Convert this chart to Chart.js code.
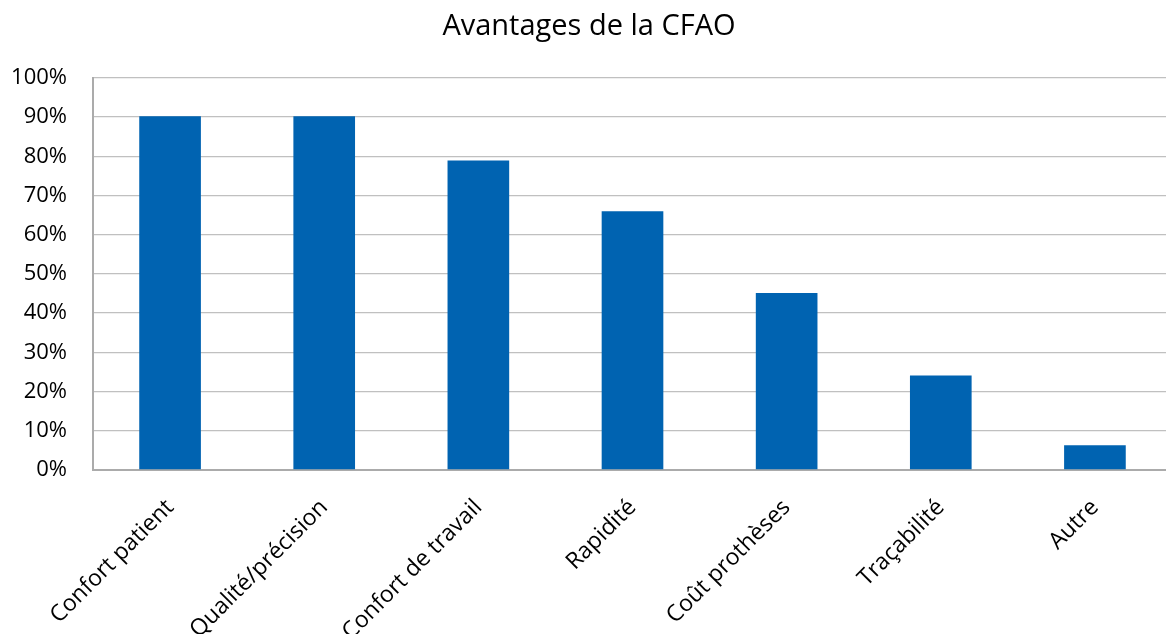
<!DOCTYPE html>
<html>
<head>
<meta charset="utf-8">
<script src="https://cdn.jsdelivr.net/npm/chart.js@4/dist/chart.umd.min.js"></script>
<style>
html,body{margin:0;padding:0;background:#fff;overflow:hidden;width:1166px;height:634px;}
canvas{display:block;}
</style>
</head>
<body>
<canvas id="c" width="1172" height="660"></canvas>
<script>
const titleText = "Avantages de la CFAO";
const categories = ["Confort patient", "Qualité/précision", "Confort de travail", "Rapidité", "Coût prothèses", "Traçabilité", "Autre"];
const values = [90.2, 90.2, 78.9, 66.0, 45.1, 24.1, 6.3];
const yMin = 0, yMax = 100, yStep = 10;

const FONT = "'Open Sans', sans-serif";
Chart.defaults.font.family = FONT;
Chart.defaults.color = '#000';

new Chart(document.getElementById('c'), {
  type: 'bar',
  data: {
    labels: categories,
    datasets: [{
      data: values,
      backgroundColor: '#0063B1',
      borderWidth: 0,
      barPercentage: 0.4,
      categoryPercentage: 1.0
    }]
  },
  options: {
    responsive: false,
    devicePixelRatio: 1,
    animation: false,
    layout: { padding: { left: 6, right: 0, top: 0, bottom: 0 } },
    plugins: {
      legend: { display: false },
      tooltip: { enabled: false },
      title: {
        display: true,
        text: titleText,
        color: '#000',
        font: { family: FONT, size: 29, weight: 'normal', lineHeight: 1.2 },
        padding: { top: 9, bottom: 34 }
      }
    },
    scales: {
      x: {
        grid: { display: false, drawTicks: false },
        border: { display: true, color: '#ababab', width: 2 },
        ticks: {
          font: { family: FONT, size: 23 },
          color: '#000',
          maxRotation: 45,
          minRotation: 45,
          padding: 24,
          autoSkip: false
        },
        afterFit: (s) => { s.height = 190; }
      },
      y: {
        min: yMin,
        max: yMax,
        grid: { color: '#c0c0c0', lineWidth: 1.3, drawTicks: false },
        border: { display: true, color: '#ababab', width: 2 },
        ticks: {
          stepSize: yStep,
          font: { family: FONT, size: 22 },
          color: '#000',
          padding: 26,
          callback: (v) => v + '%'
        },
        afterFit: (s) => { s.width = 87; }
      }
    }
  }
});
</script>
</body>
</html>
